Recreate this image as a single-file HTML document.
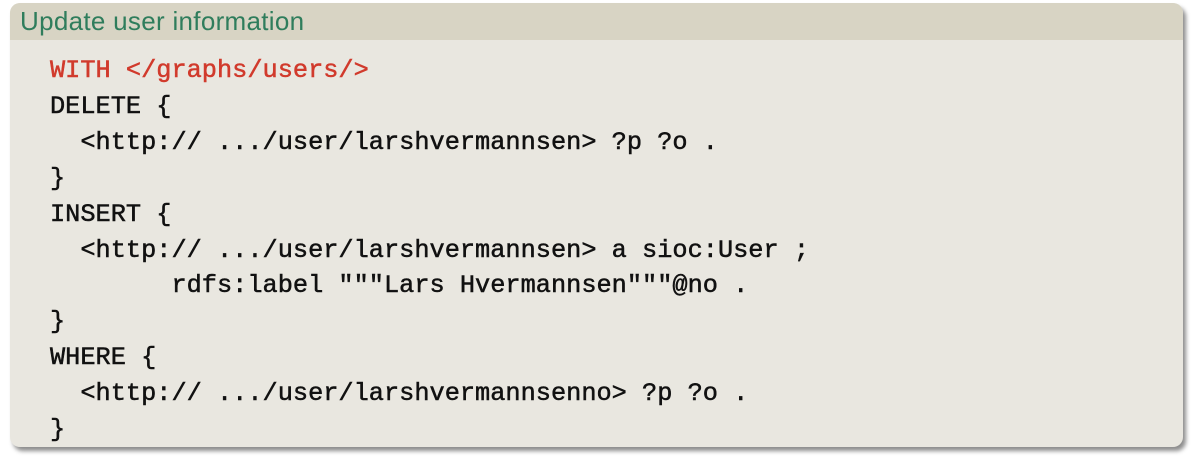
<!DOCTYPE html>
<html><head><meta charset="utf-8"><style>
html,body{margin:0;padding:0;background:#fff;width:1194px;height:456px;overflow:hidden}
.box{position:absolute;left:10px;top:3px;width:1173px;height:444px;border-radius:10px;background:#e9e7e0;box-shadow:3px 4px 4px rgba(0,0,0,0.45);overflow:hidden}
.title{height:37px;background:#d8d4c4;color:#2f7d5c;font-family:"Liberation Sans",sans-serif;font-size:26px;line-height:37px;padding-left:10px;letter-spacing:0.3px}
.code{position:absolute;left:40px;top:50px;font-family:"Liberation Mono",monospace;font-size:25.3px;line-height:35.9px;color:#111;white-space:pre;-webkit-text-stroke:0.5px #111}
.r{color:#d13a2c;-webkit-text-stroke:0.5px #d13a2c}
</style></head><body>
<div class="box"><div class="title">Update user information</div>
<div class="code"><span class="r">WITH &lt;/graphs/users/&gt;</span>
DELETE {
  &lt;http:// .../user/larshvermannsen&gt; ?p ?o .
}
INSERT {
  &lt;http:// .../user/larshvermannsen&gt; a sioc:User ;
        rdfs:label """Lars Hvermannsen"""@no .
}
WHERE {
  &lt;http:// .../user/larshvermannsenno&gt; ?p ?o .
}</div></div>
</body></html>
